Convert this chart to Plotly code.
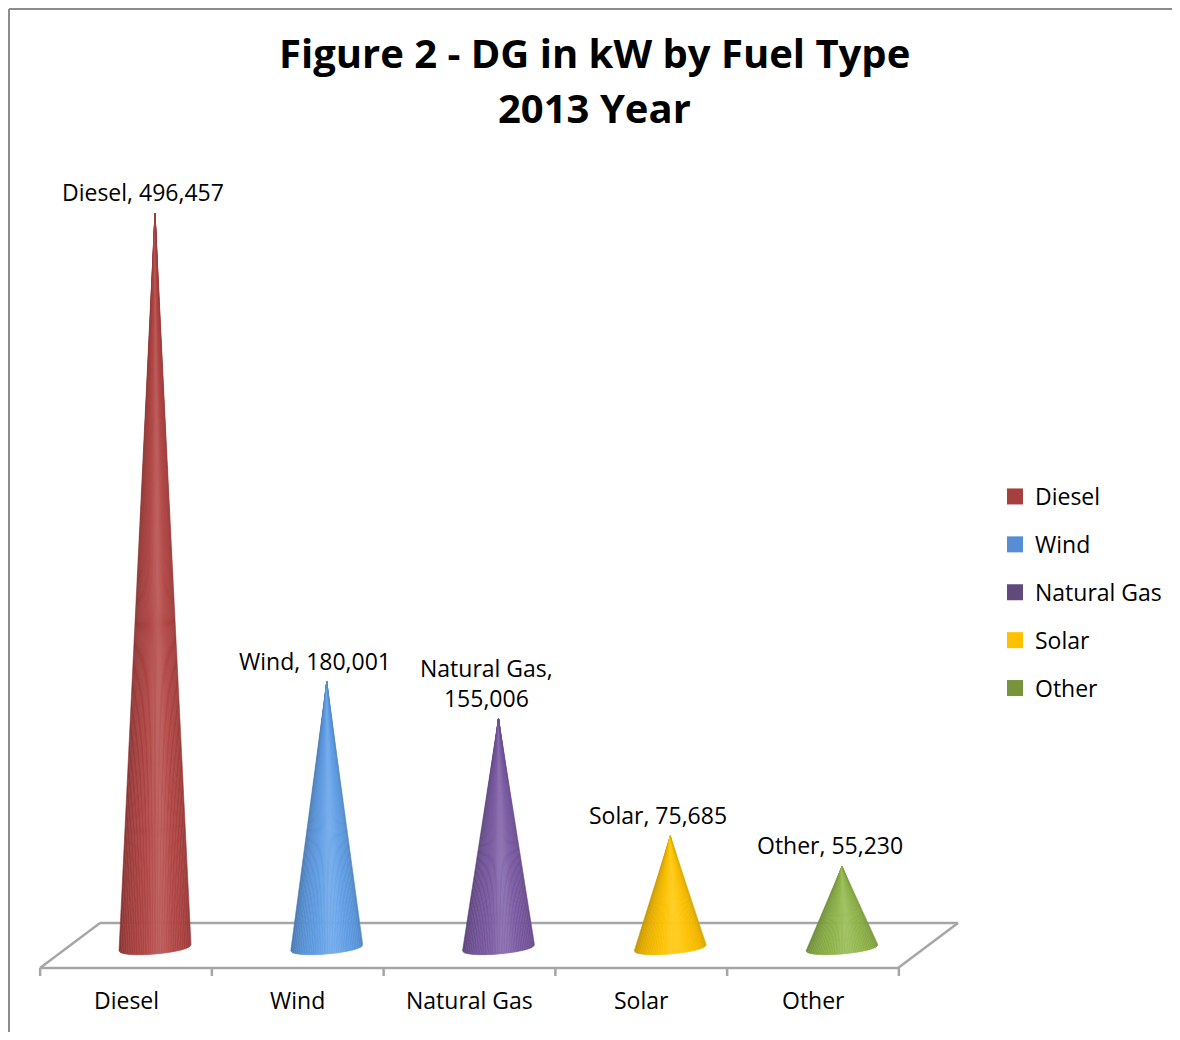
import math
import plotly.graph_objects as go

# ---- data ----
categories = ["Diesel", "Wind", "Natural Gas", "Solar", "Other"]
values = [496457, 180001, 155006, 75685, 55230]
colors = ["#AC4442", "#5E9AE0", "#77589E", "#F7BD00", "#8CB048"]
legend_colors = ["#A5403E", "#558ED5", "#604A7B", "#FFC000", "#77933C"]
label_texts = ["Diesel, 496,457", "Wind, 180,001", "Natural Gas,<br>155,006",
               "Solar, 75,685", "Other, 55,230"]
title_lines = ["Figure 2 - DG in kW by Fuel Type", "2013 Year"]

OFF = 8                       # default page margin of the html body
W, H = 1180 - 2 * OFF, 1040 - 2 * OFF
FONT = "Open Sans, sans-serif"

def fx(px):  # reference page pixel -> figure pixel
    return px - OFF

# ---- pixel geometry (layout only) ----
X0_PX = fx(155.0)      # pixel of first category (cone axis)
STEP_PX = 171.75       # pixels per category
BASE_PX = fx(948.0)    # pixel of value 0
K = 735.0 / 496457.0   # pixels per unit value

xr = [(0 - X0_PX) / STEP_PX, (W - X0_PX) / STEP_PX]
yr = [-(H - BASE_PX) / K, BASE_PX / K]

def dx(px):
    return px / STEP_PX

def dy(py):
    return py / K

def X(page_px):
    return dx(fx(page_px) - X0_PX)

def Y(page_py):
    return dy(BASE_PX - fx(page_py))

def hex2rgb(h):
    h = h.lstrip("#")
    return tuple(int(h[i:i + 2], 16) for i in (0, 2, 4))

def shade(rgb, phi):
    f = 0.80 + 0.24 * math.cos(phi - 0.2)
    c = [min(255, max(0, v * f)) for v in rgb]
    hl = 0.12 * math.exp(-((phi - 0.15) / 0.3) ** 2)
    c = [v + (255 - v) * hl for v in c]
    return "rgb(%d,%d,%d)" % tuple(int(round(v)) for v in c)

fig = go.Figure()

# ---- floor (parallelogram) ----
floor_col = "#A6A6A6"
fl = dict(type="line", xref="x", yref="y", line=dict(color=floor_col, width=2.5), layer="below")
front_l, front_r = X(40), X(898)
back_l, back_r = X(100), X(958)
y_front, y_back = Y(968), Y(923)
shapes = [
    dict(fl, x0=front_l, y0=y_front, x1=front_r, y1=y_front),
    dict(fl, x0=back_l, y0=y_back, x1=back_r, y1=y_back),
    dict(fl, x0=front_l, y0=y_front, x1=back_l, y1=y_back),
    dict(fl, x0=front_r, y0=y_front, x1=back_r, y1=y_back),
]
front_off = X(126)  # label centre offset from cone axis
for i in range(len(categories) + 1):
    xt = i - 0.5 + front_off
    shapes.append(dict(fl, x0=xt, y0=y_front, x1=xt, y1=y_front - dy(8)))

# ---- border ----
bl = dict(type="line", xref="paper", yref="paper", line=dict(color="#8C8C8C", width=2))
shapes.append(dict(bl, x0=1 / W, y0=0, x1=1 / W, y1=1 - 1 / H))
shapes.append(dict(bl, x0=1 / W, y0=1 - 1 / H, x1=1, y1=1 - 1 / H))

# ---- cones ----
R_PX = 36.0
ELL_PX = 6.0
TILT_PX = 3.0
N = 40
for i, (cat, val, col) in enumerate(zip(categories, values, colors)):
    rgb = hex2rgb(col)
    r = dx(R_PX)
    for s in range(N):
        t0 = -1 + 2 * s / N
        t1 = -1 + 2 * (s + 1) / N
        tm = (t0 + t1) / 2
        phi = math.asin(max(-1, min(1, tm)))
        pts_x, pts_y = [], []
        for t in (t0, t1):
            pts_x.append(i + t * r)
            pts_y.append(-dy(ELL_PX * math.sqrt(max(0, 1 - t * t)) + TILT_PX * (-t)))
        c = shade(rgb, phi)
        fig.add_trace(go.Scatter(
            x=[pts_x[0], pts_x[1], i, pts_x[0]],
            y=[pts_y[0], pts_y[1], val, pts_y[0]],
            mode="lines", fill="toself", fillcolor=c,
            line=dict(color=c, width=0.6),
            hoverinfo="skip", showlegend=False))

# ---- legend entries ----
for i, (cat, lc) in enumerate(zip(categories, legend_colors)):
    fig.add_trace(go.Scatter(
        x=[None], y=[None], mode="markers", name=cat, legendgroup=cat,
        marker=dict(symbol="square", size=16, color=lc)))

# ---- annotations ----
ann = []
for i, (txt, val) in enumerate(zip(label_texts, values)):
    ann.append(dict(x=i - dx(12), y=val, xref="x", yref="y", text=txt,
                    showarrow=False, yanchor="bottom", yshift=3,
                    font=dict(size=23, color="black", family=FONT)))
for i, cat in enumerate(categories):
    ann.append(dict(x=i + front_off, y=Y(1000), xref="x", yref="y",
                    text=cat, showarrow=False, yanchor="middle",
                    font=dict(size=23, color="black", family=FONT)))
for j, (line, top) in enumerate(zip(title_lines, [23, 78])):
    ann.append(dict(x=fx(594.5) / W, y=1 - fx(top) / H, xref="paper", yref="paper",
                    text="<b>%s</b>" % line,
                    showarrow=False, yanchor="top", xanchor="center",
                    font=dict(size=40, color="black", family=FONT)))

fig.update_layout(
    width=W, height=H,
    margin=dict(l=0, r=0, t=0, b=0),
    paper_bgcolor="white", plot_bgcolor="white",
    xaxis=dict(range=xr, visible=False, fixedrange=True),
    yaxis=dict(range=yr, visible=False, fixedrange=True),
    shapes=shapes, annotations=ann,
    showlegend=True,
    legend=dict(x=fx(995) / W, y=1 - fx(475) / H, xanchor="left", yanchor="top",
                font=dict(size=23, color="black", family=FONT),
                tracegroupgap=15, bgcolor="rgba(0,0,0,0)", itemclick=False),
)

fig.write_html("out.html")
